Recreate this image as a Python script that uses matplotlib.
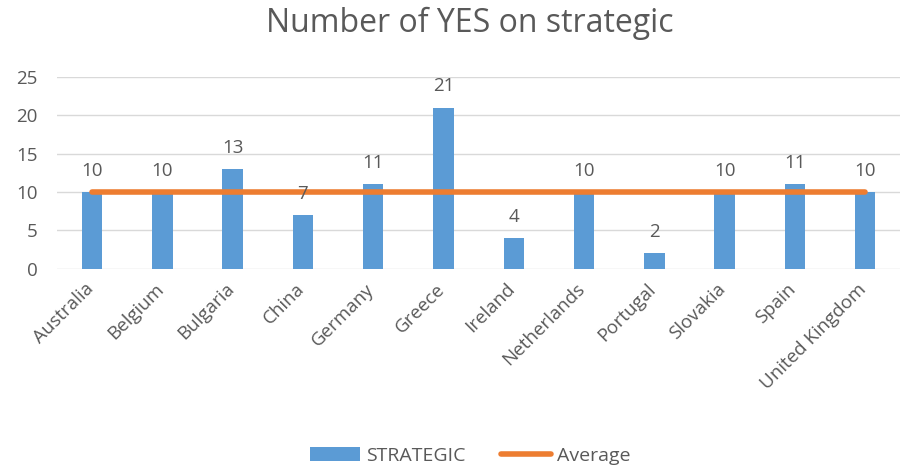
import numpy as np
import matplotlib
matplotlib.use('Agg')
import matplotlib.pyplot as plt
from matplotlib.transforms import ScaledTranslation

# ─── Data ─────────────────────────────────────────────────────────────────────
countries = ['Australia', 'Belgium', 'Bulgaria', 'China', 'Germany', 'Greece',
             'Ireland', 'Netherlands', 'Portugal', 'Slovakia', 'Spain',
             'United Kingdom']
strategic = [10, 10, 13, 7, 11, 21, 4, 10, 2, 10, 11, 10]
average = [10] * len(countries)

BLUE = '#5b9bd5'
ORANGE = '#ed7d31'
GREY = '#595959'

plt.rcParams['font.family'] = ['Open Sans', 'DejaVu Sans']

fig = plt.figure(figsize=(9.04, 4.70), dpi=100)
ax = fig.add_axes([0.063, 0.428, 0.933, 0.408])

x = np.arange(len(countries))
bars = ax.bar(x, strategic, width=0.29, color=BLUE, label='STRATEGIC', zorder=2)
line, = ax.plot(x, average, color=ORANGE, linewidth=4, label='Average', zorder=3,
                solid_capstyle='round')

# data labels above bars
for xi, v in zip(x, strategic):
    ax.text(xi, v + 1.6, str(v), ha='center', va='bottom', fontsize=13.5, color=GREY)

ax.set_xlim(-0.5, len(countries) - 0.5)
ax.set_ylim(0, 25)
ax.set_yticks(range(0, 26, 5))
ax.yaxis.grid(True, color='#d9d9d9', linewidth=1, zorder=0)
ax.set_axisbelow(True)
for s in ax.spines.values():
    s.set_visible(False)
ax.tick_params(length=0, labelsize=13.5, colors=GREY)
ax.tick_params(axis='y', pad=14)
ax.tick_params(axis='x', pad=8)
ax.set_xticks(x)
ax.set_xticklabels(countries, rotation=45, ha='right', rotation_mode='anchor')
# shift rotated labels a bit left, like Excel does
shift = ScaledTranslation(-0.08, 0, fig.dpi_scale_trans)
for lbl in ax.get_xticklabels():
    lbl.set_transform(lbl.get_transform() + shift)

fig.text(0.52, 0.95, 'Number of YES on strategic', ha='center', va='center',
         fontsize=23, color=GREY)

fig.legend(handles=[bars, line], labels=['STRATEGIC', 'Average'],
           loc='center', bbox_to_anchor=(0.52, 0.03), ncol=2, frameon=False,
           fontsize=14, labelcolor=GREY, handlelength=2.6, columnspacing=1.8,
           handletextpad=0.3)

fig.savefig('out.png', dpi=100)
